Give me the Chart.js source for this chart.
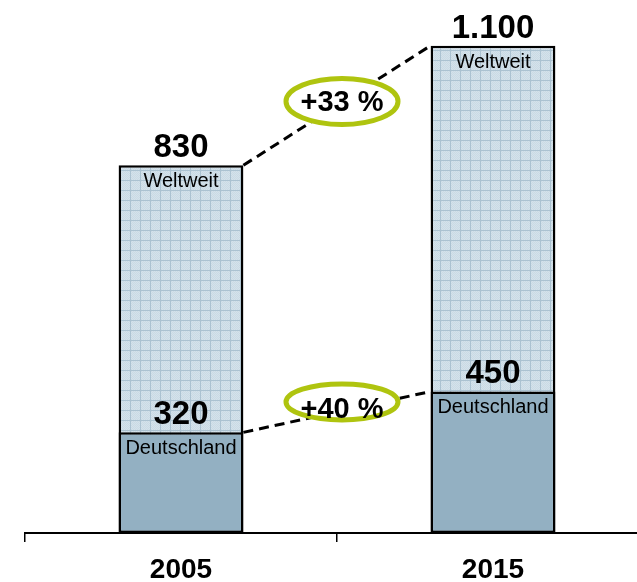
<!DOCTYPE html>
<html>
<head>
<meta charset="utf-8">
<script src="https://cdn.jsdelivr.net/npm/chart.js@4.4.1/dist/chart.umd.min.js"></script>
<style>
  html, body { margin: 0; padding: 0; background: #fff; overflow: hidden; }
  #wrap { width: 660px; height: 582px; }
</style>
</head>
<body>
<div id="wrap"><canvas id="chart"></canvas></div>
<script>
  const years = ['2005', '2015'];
  const weltweit = [830, 1100];
  const deutschland = [320, 450];
  const growth = ['+33 %', '+40 %'];   // Weltweit, Deutschland
  const seriesNames = ['Weltweit', 'Deutschland'];

  const FONT = "'Liberation Sans', Arial, sans-serif";
  const green = '#afc40f';

  // checked fill for the Weltweit bars
  function makeGridPattern() {
    const c = document.createElement('canvas');
    c.width = 10; c.height = 10;
    const g = c.getContext('2d');
    g.fillStyle = '#d4e2eb';
    g.fillRect(0, 0, 10, 10);
    g.fillStyle = '#cadae4';
    for (let y = 0; y < 10; y++) for (let x = (y % 2); x < 10; x += 2) g.fillRect(x, y, 1, 1);
    g.fillStyle = '#abc2d1';
    g.fillRect(0, 0, 10, 1);
    g.fillRect(0, 0, 1, 10);
    return c.getContext('2d').createPattern(c, 'repeat');
  }

  function fmt(v) { return String(v).replace(/\B(?=(\d{3})+(?!\d))/g, '.'); }

  // badge geometry relative to the midpoint of each dashed connector
  const badges = [
    { dx: 5, dy: -4, rx: 56, ry: 23, ty: 2 },
    { dx: 5, dy: -10, rx: 56, ry: 18, ty: 8 }
  ];

  const overlay = {
    id: 'overlay',
    afterDatasetsDraw(chart) {
      const ctx = chart.ctx;
      const metas = [chart.getDatasetMeta(0), chart.getDatasetMeta(1)];
      const values = [weltweit, deutschland];

      ctx.save();
      metas.forEach((meta, si) => {
        const a = meta.data[0].getProps(['x', 'y', 'width'], true);
        const b = meta.data[1].getProps(['x', 'y', 'width'], true);
        const x1 = a.x + a.width / 2, y1 = a.y;
        const x2 = b.x - b.width / 2, y2 = b.y;

        // dashed connector
        ctx.setLineDash([10, 6]);
        ctx.lineWidth = 3;
        ctx.strokeStyle = '#000';
        ctx.beginPath();
        ctx.moveTo(x1, y1);
        ctx.lineTo(x2, y2);
        ctx.stroke();
        ctx.setLineDash([]);

        // growth badge
        const bd = badges[si];
        const cx = (x1 + x2) / 2 + bd.dx, cy = (y1 + y2) / 2 + bd.dy;
        ctx.beginPath();
        ctx.ellipse(cx, cy, bd.rx, bd.ry, 0, 0, Math.PI * 2);
        ctx.fillStyle = '#fff';
        ctx.fill();
        ctx.lineWidth = 5;
        ctx.strokeStyle = green;
        ctx.stroke();
        ctx.fillStyle = '#000';
        ctx.font = 'bold 29px ' + FONT;
        ctx.textAlign = 'center';
        ctx.textBaseline = 'middle';
        ctx.fillText(growth[si], cx, cy + bd.ty);

        // value and name labels on each bar
        meta.data.forEach((el, i) => {
          const p = el.getProps(['x', 'y'], true);
          ctx.textAlign = 'center';
          ctx.textBaseline = 'alphabetic';
          ctx.font = 'bold 33px ' + FONT;
          ctx.fillText(fmt(values[si][i]), p.x, p.y - 8);
          ctx.font = '20px ' + FONT;
          ctx.fillText(seriesNames[si], p.x, p.y + 22);
        });
      });
      ctx.restore();
    }
  };

  new Chart(document.getElementById('chart'), {
    type: 'bar',
    data: {
      labels: years,
      datasets: [
        {
          label: 'Weltweit',
          data: weltweit,
          yAxisID: 'y',
          order: 2,
          backgroundColor: makeGridPattern(),
          borderColor: '#000',
          borderWidth: 2.5,
          borderSkipped: false
        },
        {
          label: 'Deutschland',
          data: deutschland,
          yAxisID: 'y2',
          order: 1,
          backgroundColor: '#93b0c2',
          borderColor: '#000',
          borderWidth: 2.5,
          borderSkipped: false
        }
      ]
    },
    options: {
      responsive: true,
      maintainAspectRatio: false,
      animation: false,
      layout: { padding: { left: 25, right: 11, top: 0, bottom: 0 } },
      datasets: { bar: { grouped: false, categoryPercentage: 1, barPercentage: 0.4 } },
      plugins: { legend: { display: false }, tooltip: { enabled: false } },
      scales: {
        x: {
          afterFit(scale) { scale.height = 49; },
          grid: { drawOnChartArea: false, offset: true, tickLength: 9, color: '#000', lineWidth: 1.5 },
          border: { display: true, color: '#000', width: 2 },
          ticks: { color: '#000', padding: 11, font: { family: FONT, size: 28, weight: 'bold' } }
        },
        y: { display: false, min: 0, max: 1203 },
        y2: { display: false, min: 0, max: 1695 }
      }
    },
    plugins: [overlay]
  });
</script>
</body>
</html>
